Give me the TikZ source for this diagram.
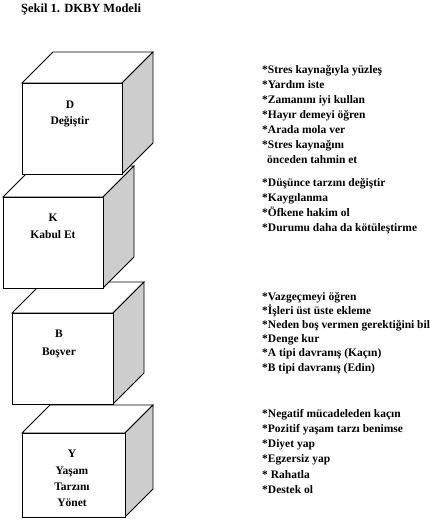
\documentclass[tikz,border=0pt]{standalone}
\usepackage{fontspec}
\setmainfont{Liberation Serif}
\definecolor{sidegray}{HTML}{CDCDCD}
\newcommand{\mycube}[5]{%
  \draw[cubeline, fill=white] (#1,#2) -- (#1+#5,#2-#5) -- (#3+#5,#2-#5) -- (#3,#2) -- cycle;
  \draw[cubeline, fill=sidegray] (#3,#2) -- (#3+#5,#2-#5) -- (#3+#5,#4-#5) -- (#3,#4) -- cycle;
  \draw[cubeline, fill=white] (#1,#2) rectangle (#3,#4);
}
\begin{document}
\begin{tikzpicture}[x=1pt,y=-1pt,
  cubeline/.style={draw=black, line width=0.9pt, line join=miter},
  listtext/.style={anchor=base west, inner sep=0pt, font=\fontsize{11.5}{14}\selectfont\bfseries},
  cubetext/.style={anchor=base, inner sep=0pt, font=\fontsize{11.5}{14}\selectfont\bfseries},
  titletext/.style={anchor=base west, inner sep=0pt, font=\fontsize{12.5}{15}\selectfont\bfseries}]
\useasboundingbox (0,0) rectangle (440,523);
\fill[white] (0,0) rectangle (440,523);

\node[titletext] (title) at (21,12) {Şekil 1. DKBY Modeli};

% cubes, drawn from bottom up
\mycube{22}{433}{125}{517}{28}
\mycube{12}{313}{113}{404}{31}
\mycube{3}{197}{103}{288}{31}
\mycube{22}{83}{122}{174}{31}

% cube labels
\node[cubetext] (dl) at (70,108) {D};
\node[cubetext] (dn) at (70,124) {Değiştir};
\node[cubetext] (kl) at (53,221) {K};
\node[cubetext] (kn) at (53,238) {Kabul Et};
\node[cubetext] (bl) at (59,337) {B};
\node[cubetext] (bn) at (59,355) {Boşver};
\node[cubetext] (yl) at (72,457) {Y};
\node[cubetext] (yn1) at (72,474) {Yaşam};
\node[cubetext] (yn2) at (72,490) {Tarzını};
\node[cubetext] (yn3) at (72,506) {Yönet};

% D list
\node[listtext] (d1) at (262,73) {*Stres kaynağıyla yüzleş};
\node[listtext] (d2) at (262,88) {*Yardım iste};
\node[listtext] (d3) at (262,103) {*Zamanını iyi kullan};
\node[listtext] (d4) at (262,118) {*Hayır demeyi öğren};
\node[listtext] (d5) at (262,133) {*Arada mola ver};
\node[listtext] (d6) at (262,148) {*Stres kaynağını};
\node[listtext] (d7) at (267,163) {önceden tahmin et};
% K list
\node[listtext] (k1) at (262,186) {*Düşünce tarzını değiştir};
\node[listtext] (k2) at (262,201) {*Kaygılanma};
\node[listtext] (k3) at (262,216) {*Öfkene hakim ol};
\node[listtext] (k4) at (262,231) {*Durumu daha da kötüleştirme};
% B list
\node[listtext] (b1) at (262,300) {*Vazgeçmeyi öğren};
\node[listtext] (b2) at (262,314) {*İşleri üst üste ekleme};
\node[listtext] (b3) at (262,328) {*Neden boş vermen gerektiğini bil};
\node[listtext] (b4) at (262,342) {*Denge kur};
\node[listtext] (b5) at (262,356) {*A tipi davranış (Kaçın)};
\node[listtext] (b6) at (262,371) {*B tipi davranış (Edin)};
% Y list
\node[listtext] (y1) at (262,417) {*Negatif mücadeleden kaçın};
\node[listtext] (y2) at (262,432) {*Pozitif yaşam tarzı benimse};
\node[listtext] (y3) at (262,447) {*Diyet yap};
\node[listtext] (y4) at (262,462) {*Egzersiz yap};
\node[listtext] (y5) at (262,478) {* Rahatla};
\node[listtext] (y6) at (262,493) {*Destek ol};
\end{tikzpicture}
\end{document}
